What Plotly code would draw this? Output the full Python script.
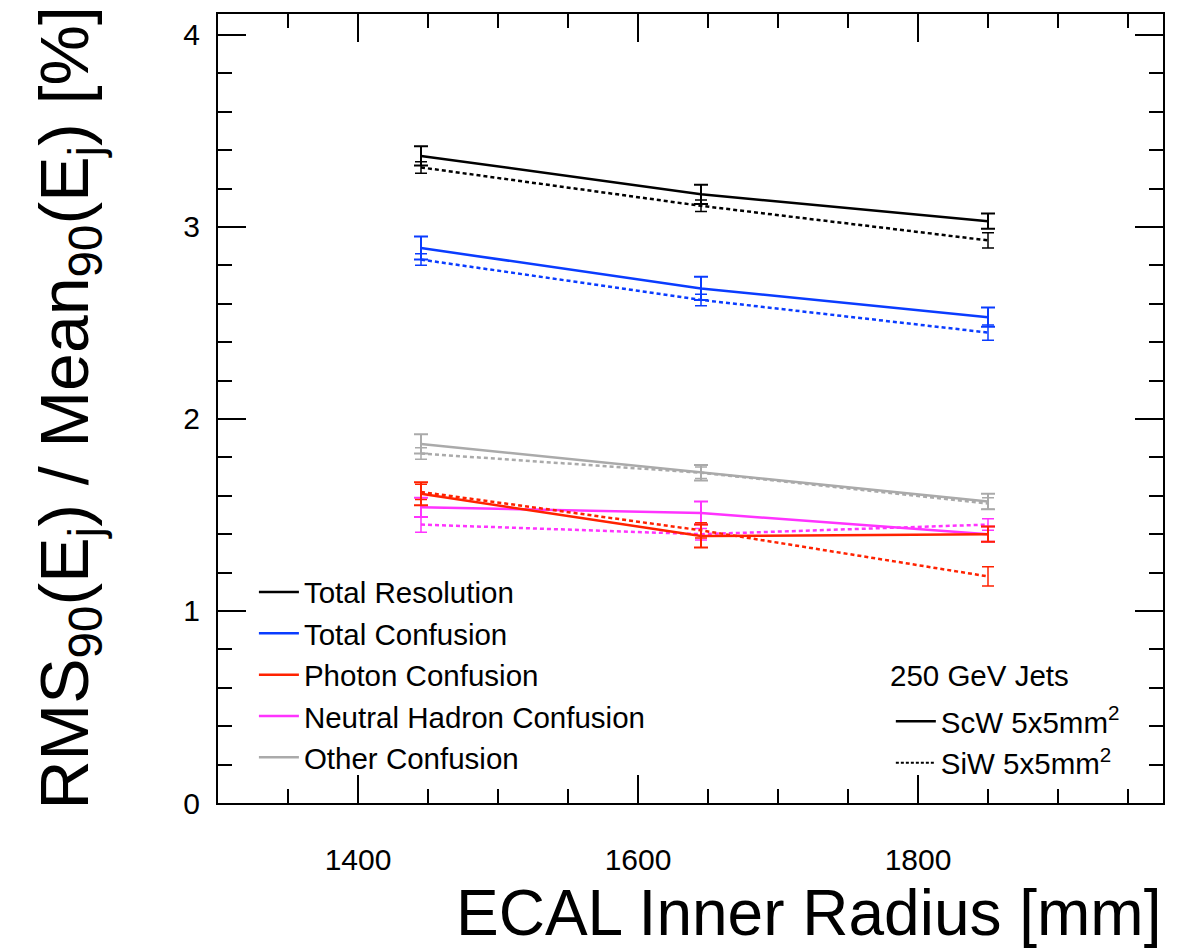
import plotly.graph_objects as go

radius = [1445, 1645, 1850]

tot_res_scw = [3.37, 3.17, 3.03]
tot_res_scw_err = [0.05, 0.05, 0.04]
tot_res_siw = [3.31, 3.11, 2.93]
tot_res_siw_err = [0.03, 0.03, 0.04]

tot_conf_scw = [2.89, 2.68, 2.53]
tot_conf_scw_err = [0.06, 0.06, 0.05]
tot_conf_siw = [2.83, 2.62, 2.45]
tot_conf_siw_err = [0.03, 0.03, 0.04]

photon_scw = [1.61, 1.39, 1.40]
photon_scw_err = [0.06, 0.06, 0.04]
photon_siw = [1.62, 1.42, 1.18]
photon_siw_err = [0.04, 0.04, 0.05]

neutral_scw = [1.54, 1.51, 1.40]
neutral_scw_err = [0.05, 0.06, 0.04]
neutral_siw = [1.45, 1.40, 1.45]
neutral_siw_err = [0.04, 0.03, 0.03]

other_scw = [1.87, 1.72, 1.57]
other_scw_err = [0.05, 0.04, 0.04]
other_siw = [1.82, 1.72, 1.56]
other_siw_err = [0.03, 0.03, 0.03]

names = ["Total Resolution", "Total Confusion", "Photon Confusion",
         "Neutral Hadron Confusion", "Other Confusion"]
colors = ["#000000", "#0a3cff", "#ff2200", "#ff33ff", "#aaaaaa"]
scw_series = [(tot_res_scw, tot_res_scw_err), (tot_conf_scw, tot_conf_scw_err),
              (photon_scw, photon_scw_err), (neutral_scw, neutral_scw_err),
              (other_scw, other_scw_err)]
siw_series = [(tot_res_siw, tot_res_siw_err), (tot_conf_siw, tot_conf_siw_err),
              (photon_siw, photon_siw_err), (neutral_siw, neutral_siw_err),
              (other_siw, other_siw_err)]

FONT = "Liberation Sans, Arial, Helvetica, sans-serif"
fig = go.Figure()

order = [4, 3, 2, 1, 0]
for i in order:
    c = colors[i]
    y, e = siw_series[i]
    fig.add_trace(go.Scatter(
        x=radius, y=y, mode="lines", showlegend=False,
        line=dict(color=c, width=2.5, dash="4px,3px"),
        error_y=dict(type="data", array=e, color=c, thickness=1.5, width=6)))
    y, e = scw_series[i]
    fig.add_trace(go.Scatter(
        x=radius, y=y, mode="lines", showlegend=False,
        line=dict(color=c, width=2.5),
        error_y=dict(type="data", array=e, color=c, thickness=2, width=7)))

# legend 1: components
for i, n in enumerate(names):
    fig.add_trace(go.Scatter(
        x=[None], y=[None], mode="lines", name=n, legend="legend",
        legendgroup="g%d" % i,
        line=dict(color=colors[i], width=2.5)))

# legend 2: technologies
fig.add_trace(go.Scatter(x=[None], y=[None], mode="lines", name="ScW 5x5mm<sup>2</sup>",
                         legend="legend2", legendgroup="s1",
                         line=dict(color="black", width=2.5)))
fig.add_trace(go.Scatter(x=[None], y=[None], mode="lines", name="SiW 5x5mm<sup>2</sup>",
                         legend="legend2", legendgroup="s2",
                         line=dict(color="black", width=2, dash="3px,2px")))

axis_common = dict(
    showline=True, linecolor="black", linewidth=2, mirror="allticks",
    ticks="inside", ticklen=28, tickwidth=2, tickcolor="black",
    showgrid=False, zeroline=False,
    tickfont=dict(family=FONT, size=30, color="black"),
)

fig.update_xaxes(range=[1300, 1975], dtick=200, tick0=0,
                 minor=dict(dtick=50, ticks="inside", ticklen=14, tickwidth=2, tickcolor="black"),
                 ticklabelstandoff=29, **axis_common)
fig.update_yaxes(range=[0, 4.109], dtick=1, tick0=0,
                 minor=dict(dtick=0.2, ticks="inside", ticklen=14, tickwidth=2, tickcolor="black"),
                 ticklabelstandoff=10, **axis_common)

LEG = 29.5
fig.update_layout(
    width=1182, height=952,
    margin=dict(l=218, r=19, t=12, b=149),
    plot_bgcolor="white", paper_bgcolor="white",
    font=dict(family=FONT, color="black"),
    legend=dict(x=0.038, y=0.3, xanchor="left", yanchor="top",
                bgcolor="rgba(0,0,0,0)", font=dict(family=FONT, size=LEG, color="black"),
                tracegroupgap=0, itemwidth=40),
    legend2=dict(x=0.712, y=0.136, xanchor="left", yanchor="top",
                 bgcolor="rgba(0,0,0,0)", font=dict(family=FONT, size=LEG, color="black"),
                 tracegroupgap=0, itemwidth=40),
    annotations=[
        dict(text="250 GeV Jets", xref="paper", yref="paper", x=0.709, y=0.162,
             xanchor="left", yanchor="middle", showarrow=False,
             font=dict(family=FONT, size=LEG, color="black")),
        dict(text="ECAL Inner Radius [mm]", xref="paper", yref="paper", x=1.0, y=0,
             xanchor="right", yanchor="middle", yshift=-110, showarrow=False,
             font=dict(family=FONT, size=64, color="black")),
        dict(text="RMS<sub>90</sub>(E<sub>j</sub>) / Mean<sub>90</sub>(E<sub>j</sub>) [%]",
             xref="paper", yref="paper", x=0, y=0.5, xanchor="center", yanchor="middle",
             xshift=-150, textangle=-90, showarrow=False,
             font=dict(family=FONT, size=68, color="black")),
    ],
)

fig.write_html("out.html")
